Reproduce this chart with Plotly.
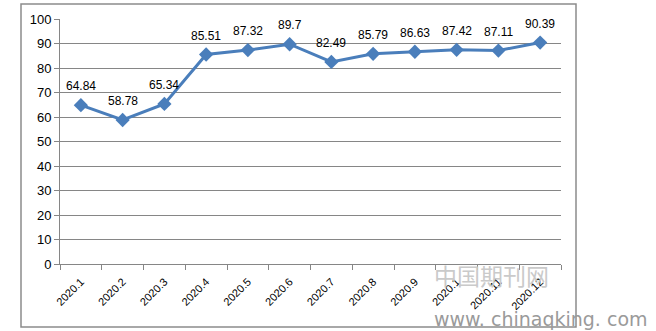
import plotly.graph_objects as go

months = ["2020.1", "2020.2", "2020.3", "2020.4", "2020.5", "2020.6",
          "2020.7", "2020.8", "2020.9", "2020.10", "2020.11", "2020.12"]
tick_text = ["2020.1", "2020.2", "2020.3", "2020.4", "2020.5", "2020.6",
             "2020.7", "2020.8", "2020.9", "2020.1", "2020.11", "2020.12"]
values = [64.84, 58.78, 65.34, 85.51, 87.32, 89.7,
          82.49, 85.79, 86.63, 87.42, 87.11, 90.39]
y_ticks = [0, 10, 20, 30, 40, 50, 60, 70, 80, 90, 100]

W, H = 656, 331
L, R, T, B = 60, 95, 19, 67
pw, ph = W - L - R, H - T - B

def px(x):
    return (x - L) / pw

def py(y):
    return 1 - (y - T) / ph

fig = go.Figure()
fig.add_trace(go.Scatter(
    x=months, y=values,
    mode="lines+markers",
    line=dict(color="#4A7EBB", width=3),
    marker=dict(symbol="diamond", size=11, color="#4A7EBB"),
    cliponaxis=False,
    hoverinfo="x+y",
))

# value labels above each point (category index on the x axis)
for i, v in enumerate(values):
    fig.add_annotation(x=i, y=v, xref="x", yref="y", text=f"{v:g}",
                       showarrow=False, yshift=19,
                       xanchor="center", yanchor="middle",
                       font=dict(family="Liberation Sans, Arial", size=12,
                                 color="#000000"))

# outer chart frame
fig.add_shape(type="rect", xref="paper", yref="paper",
              x0=px(21), x1=px(576), y0=py(327), y1=py(4),
              line=dict(color="#8C8C8C", width=1.5), fillcolor="rgba(0,0,0,0)",
              layer="below")

# site watermark
fig.add_annotation(text="中国期刊网", xref="paper", yref="paper",
                   x=px(491), y=py(275), xanchor="center", yanchor="middle",
                   showarrow=False,
                   font=dict(family="Noto Sans CJK SC", size=23, color="#CACACA"))
fig.add_annotation(text="www. chinaqking. com", xref="paper", yref="paper",
                   x=px(541), y=py(319), xanchor="center", yanchor="middle",
                   showarrow=False,
                   font=dict(family="DejaVu Sans", size=19, color="#9A9A9A"))

fig.update_layout(
    width=W, height=H,
    margin=dict(l=L, r=R, t=T, b=B),
    paper_bgcolor="white", plot_bgcolor="white",
    showlegend=False,
    font=dict(family="Liberation Sans, Arial", color="#000000"),
)
fig.update_xaxes(
    type="category",
    tickmode="array", tickvals=months, ticktext=tick_text,
    tickangle=-45, tickfont=dict(size=11), ticklabelstandoff=6,
    tickson="boundaries", ticks="outside", ticklen=5, tickcolor="#868686",
    showline=True, linecolor="#868686", linewidth=1,
    showgrid=False, range=[-0.5, 11.5],
)
fig.update_yaxes(
    range=[0, 100], tickmode="array", tickvals=y_ticks,
    tickfont=dict(size=13),
    ticks="outside", ticklen=5, tickcolor="#868686",
    showline=True, linecolor="#868686", linewidth=1,
    showgrid=True, gridcolor="#868686", gridwidth=1,
    zeroline=False,
)

fig.write_html("out.html")
